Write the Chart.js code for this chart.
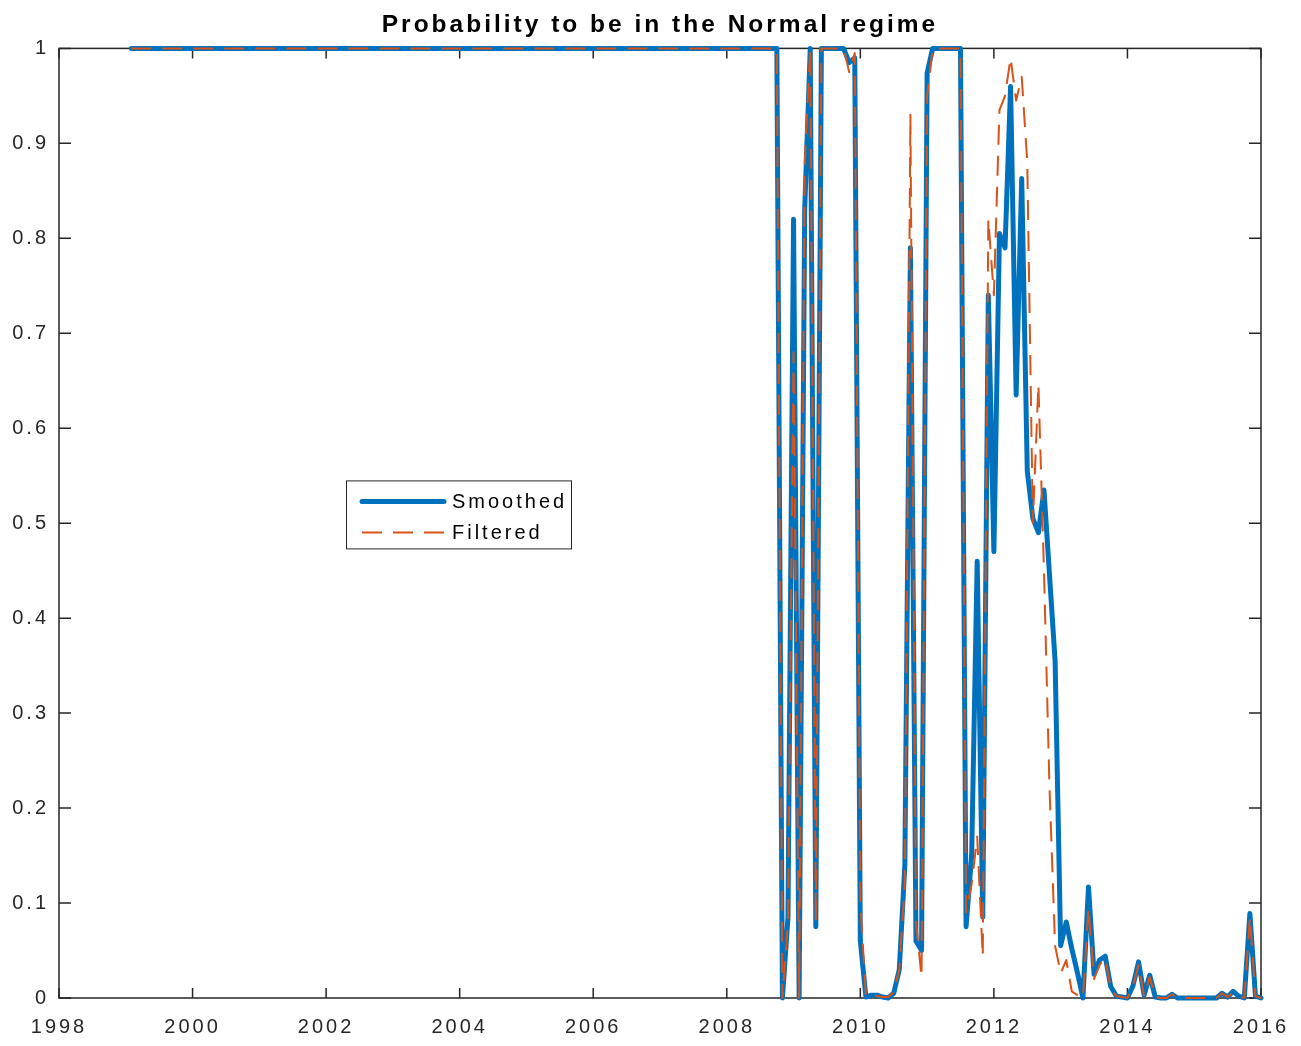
<!DOCTYPE html>
<html>
<head>
<meta charset="utf-8">
<title>Probability to be in the Normal regime</title>
<script src="https://cdn.jsdelivr.net/npm/chart.js@4.4.1/dist/chart.umd.min.js"></script>
<style>
    html, body { margin: 0; padding: 0; background: #fff; }
    #wrap { width: 1301px; height: 1046px; }
</style>
</head>
<body>
<div id="wrap"><canvas id="graphCanvas" width="1301" height="1046"></canvas></div>
<script>
// monthly series, first value is February 1999
var startYear = 1999;
var startMonth = 2;

var seriesNames = ['Smoothed', 'Filtered'];
var xTicks = [1998, 2000, 2002, 2004, 2006, 2008, 2010, 2012, 2014, 2016];
var yTicks = [0, 0.1, 0.2, 0.3, 0.4, 0.5, 0.6, 0.7, 0.8, 0.9, 1];
var yTickLabels = ['0', '0.1', '0.2', '0.3', '0.4', '0.5', '0.6', '0.7', '0.8', '0.9', '1'];

var smoothed = [
    1, 1, 1, 1, 1, 1, 1, 1, 1, 1, 1,                               // 1999 (Feb-Dec)
    1, 1, 1, 1, 1, 1, 1, 1, 1, 1, 1, 1,                            // 2000
    1, 1, 1, 1, 1, 1, 1, 1, 1, 1, 1, 1,                            // 2001
    1, 1, 1, 1, 1, 1, 1, 1, 1, 1, 1, 1,                            // 2002
    1, 1, 1, 1, 1, 1, 1, 1, 1, 1, 1, 1,                            // 2003
    1, 1, 1, 1, 1, 1, 1, 1, 1, 1, 1, 1,                            // 2004
    1, 1, 1, 1, 1, 1, 1, 1, 1, 1, 1, 1,                            // 2005
    1, 1, 1, 1, 1, 1, 1, 1, 1, 1, 1, 1,                            // 2006
    1, 1, 1, 1, 1, 1, 1, 1, 1, 1, 1, 1,                            // 2007
    1, 1, 1, 1, 1, 1, 1, 1, 1, 1, 0, 0.085,                        // 2008
    0.82, 0, 0.83, 1, 0.075, 1, 1, 1, 1, 1, 0.985, 0.99,           // 2009
    0.06, 0.001, 0.003, 0.003, 0.001, 0, 0.005, 0.03, 0.14, 0.79, 0.06, 0.05,   // 2010
    0.974, 1, 1, 1, 1, 1, 1, 0.075, 0.15, 0.46, 0.085, 0.74,       // 2011
    0.47, 0.805, 0.79, 0.96, 0.635, 0.863, 0.555, 0.505, 0.49, 0.535, 0.445, 0.355, // 2012
    0.055, 0.08, 0.052, 0.027, 0, 0.117, 0.025, 0.04, 0.044, 0.012, 0.002, 0.001,  // 2013
    0, 0.013, 0.038, 0.003, 0.024, 0.001, 0, 0, 0.004, 0, 0, 0,    // 2014
    0, 0, 0, 0, 0, 0.005, 0.001, 0.007, 0.002, 0, 0.089, 0.002,    // 2015
    0                                                              // 2016 (Jan)
];

var filtered = [
    1, 1, 1, 1, 1, 1, 1, 1, 1, 1, 1,                               // 1999 (Feb-Dec)
    1, 1, 1, 1, 1, 1, 1, 1, 1, 1, 1, 1,                            // 2000
    1, 1, 1, 1, 1, 1, 1, 1, 1, 1, 1, 1,                            // 2001
    1, 1, 1, 1, 1, 1, 1, 1, 1, 1, 1, 1,                            // 2002
    1, 1, 1, 1, 1, 1, 1, 1, 1, 1, 1, 1,                            // 2003
    1, 1, 1, 1, 1, 1, 1, 1, 1, 1, 1, 1,                            // 2004
    1, 1, 1, 1, 1, 1, 1, 1, 1, 1, 1, 1,                            // 2005
    1, 1, 1, 1, 1, 1, 1, 1, 1, 1, 1, 1,                            // 2006
    1, 1, 1, 1, 1, 1, 1, 1, 1, 1, 1, 1,                            // 2007
    1, 1, 1, 1, 1, 1, 1, 1, 1, 1, 0, 0.08,                         // 2008
    0.68, 0, 0.88, 1, 0.08, 1, 1, 1, 1, 1, 0.975, 0.995,           // 2009
    0.1, 0.002, 0.004, 0.002, 0.001, 0.001, 0.006, 0.03, 0.12, 0.93, 0.08, 0.022, // 2010
    0.95, 1, 1, 1, 1, 1, 1, 0.09, 0.12, 0.17, 0.044, 0.82,         // 2011
    0.74, 0.935, 0.95, 0.99, 0.945, 0.97, 0.88, 0.5, 0.646, 0.45, 0.22, 0.055,    // 2012
    0.026, 0.04, 0.007, 0.003, 0, 0.095, 0.02, 0.035, 0.042, 0.01, 0.002, 0.001,  // 2013
    0, 0.012, 0.035, 0.002, 0.022, 0.001, 0, 0, 0.004, 0, 0, 0,    // 2014
    0, 0, 0, 0, 0, 0.005, 0.001, 0.006, 0.002, 0, 0.085, 0.002,    // 2015
    0                                                              // 2016 (Jan)
];

// month index -> decimal year (Jan = .0)
function toPoints(values) {
    var pts = [];
    for (var i = 0; i < values.length; i++) {
        pts.push({ x: startYear + (startMonth - 1 + i) / 12, y: values[i] });
    }
    return pts;
}

var fontFamily = '"Liberation Sans", Arial, Helvetica, sans-serif';
var axisColor = '#262626';
Chart.defaults.font.family = fontFamily;
Chart.defaults.color = axisColor;

// matlab-like wide letter spacing
var spacing = {
    id: 'spacing',
    beforeDraw: function (chart) { chart.ctx.letterSpacing = '3px'; }
};

// box round the axes, ticks inside on all four sides
var axesBox = {
    id: 'axesBox',
    beforeDatasetsDraw: function (chart) {
        var ctx = chart.ctx, a = chart.chartArea;
        var xs = chart.scales.x, ys = chart.scales.y;
        ctx.save();
        ctx.strokeStyle = axisColor;
        ctx.lineWidth = 1.5;
        ctx.strokeRect(a.left, a.top, a.right - a.left, a.bottom - a.top);
        ctx.beginPath();
        xs.ticks.forEach(function (t) {
            var px = xs.getPixelForValue(t.value);
            ctx.moveTo(px, a.bottom); ctx.lineTo(px, a.bottom - 10);
            ctx.moveTo(px, a.top); ctx.lineTo(px, a.top + 10);
        });
        ys.ticks.forEach(function (t) {
            var py = ys.getPixelForValue(t.value);
            ctx.moveTo(a.left, py); ctx.lineTo(a.left + 12, py);
            ctx.moveTo(a.right, py); ctx.lineTo(a.right - 12, py);
        });
        ctx.stroke();
        ctx.restore();
    }
};

// legend box sitting inside the plot
var boxLegend = {
    id: 'boxLegend',
    afterDraw: function (chart) {
        var ctx = chart.ctx, a = chart.chartArea;
        var left = a.left + 287, top = a.top + 432, w = 225, h = 68;
        ctx.save();
        ctx.fillStyle = '#fff';
        ctx.fillRect(left, top, w, h);
        ctx.strokeStyle = axisColor;
        ctx.lineWidth = 1;
        ctx.strokeRect(left + 0.5, top + 0.5, w, h);
        chart.data.datasets.forEach(function (ds, i) {
            var cy = top + 21 + i * 31;
            ctx.beginPath();
            ctx.setLineDash(ds.borderDash || []);
            ctx.strokeStyle = ds.borderColor;
            ctx.lineWidth = ds.borderWidth;
            ctx.lineCap = i === 0 ? 'round' : 'butt';
            ctx.moveTo(left + 16, cy);
            ctx.lineTo(left + 98, cy);
            ctx.stroke();
            ctx.setLineDash([]);
            ctx.fillStyle = '#000';
            ctx.font = '20px ' + fontFamily;
            ctx.textBaseline = 'middle';
            ctx.textAlign = 'left';
            ctx.fillText(ds.label, left + 106, cy + 1);
        });
        ctx.restore();
    }
};

var graphTarget = document.getElementById('graphCanvas');

var lineGraph = new Chart(graphTarget, {
    type: 'line',
    data: {
        datasets: [
            {
                label: seriesNames[0],
                data: toPoints(smoothed),
                borderColor: '#0072BD',
                borderWidth: 5,
                borderJoinStyle: 'round',
                borderCapStyle: 'round',
                pointRadius: 0,
                tension: 0,
                clip: false,
                order: 1
            },
            {
                label: seriesNames[1],
                data: toPoints(filtered),
                borderColor: '#D95319',
                borderWidth: 2,
                borderDash: [20, 11],
                borderJoinStyle: 'round',
                pointRadius: 0,
                tension: 0,
                clip: false,
                order: 0
            }
        ]
    },
    options: {
        responsive: false,
        animation: false,
        devicePixelRatio: 1,
        layout: { padding: { left: 0, right: 40, top: 0, bottom: 0 } },
        plugins: {
            legend: { display: false },
            tooltip: { enabled: false },
            title: {
                display: true,
                text: 'Probability to be in the Normal regime',
                color: '#000',
                fullSize: false,
                font: { size: 24.5, weight: 'bold' },
                padding: { top: 11, bottom: 8 }
            }
        },
        scales: {
            x: {
                type: 'linear',
                min: 1998,
                max: 2016,
                grid: { display: false, drawTicks: false },
                border: { display: false },
                afterBuildTicks: function (scale) {
                    scale.ticks = xTicks.map(function (v) { return { value: v }; });
                },
                afterFit: function (scale) { scale.height = 48; },
                ticks: {
                    color: axisColor,
                    font: { size: 20 },
                    padding: 17,
                    maxRotation: 0,
                    autoSkip: false,
                    callback: function (v) { return String(v); }
                }
            },
            y: {
                type: 'linear',
                min: 0,
                max: 1,
                grid: { display: false, drawTicks: false },
                border: { display: false },
                afterBuildTicks: function (scale) {
                    scale.ticks = yTicks.map(function (v) { return { value: v }; });
                },
                afterFit: function (scale) { scale.width = 59; },
                ticks: {
                    color: axisColor,
                    font: { size: 20 },
                    padding: 10,
                    autoSkip: false,
                    callback: function (v, i) { return yTickLabels[i]; }
                }
            }
        }
    },
    plugins: [spacing, axesBox, boxLegend]
});
</script>
</body>
</html>
